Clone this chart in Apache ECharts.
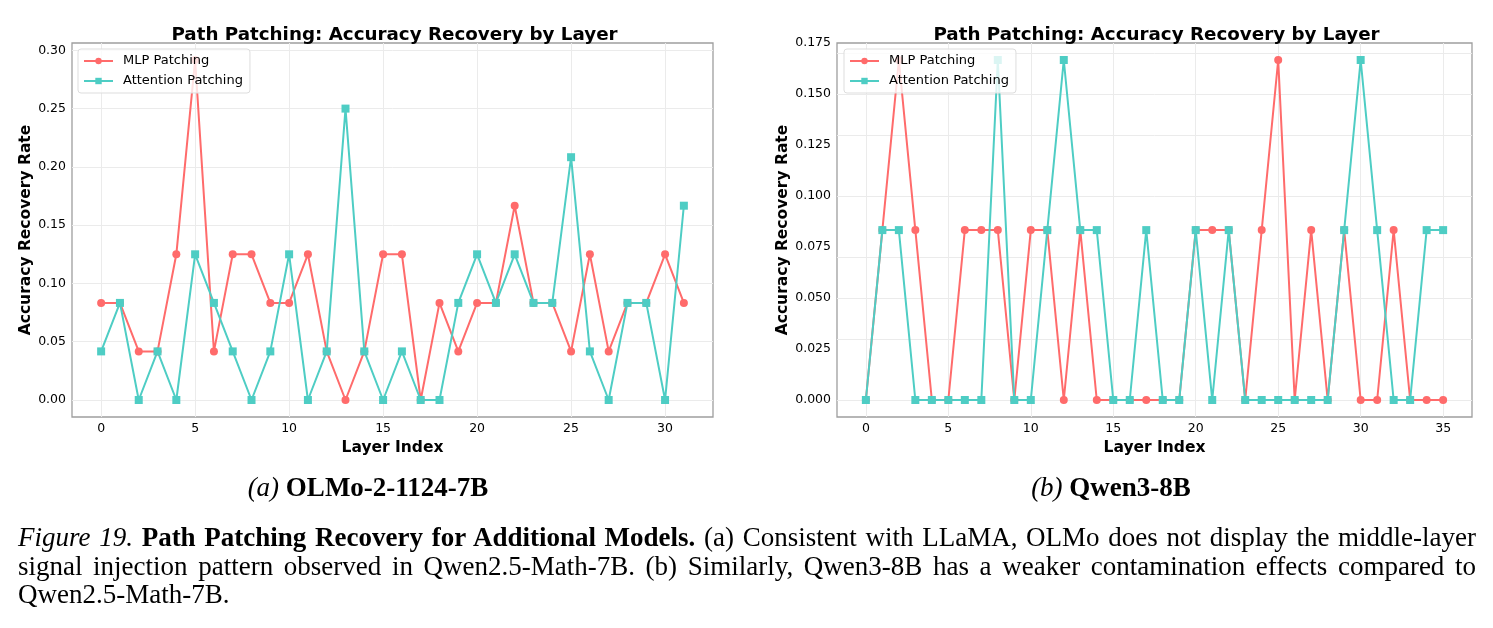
<!DOCTYPE html>
<html lang="en">

<head>
    <meta charset="UTF-8">
    <title>Path Patching Recovery</title>
    <script src="https://cdn.jsdelivr.net/npm/echarts@6/dist/echarts.min.js"></script>
    <style>
        body { margin: 0; background: #fff; }
        #wrap { position: relative; width: 1493px; height: 628px; }
        #main { position: absolute; left: 0; top: 0; width: 1493px; height: 628px; }
        .sub { position: absolute; top: 470px; font-family: 'Liberation Serif', 'Times New Roman', serif; font-size: 27px; line-height: 34px; white-space: nowrap; transform: translateX(-50%); }
        .cap { position: absolute; left: 18px; top: 523px; width: 1458px; font-family: 'Liberation Serif', 'Times New Roman', serif; font-size: 27px; line-height: 28.5px; }
        .cap .line { white-space: nowrap; }
        .cap .full { text-align: justify; text-align-last: justify; }
    </style>
</head>

<body>
<div id="wrap">
    <div id="main"></div>
    <div class="sub" style="left: 368px;"><i>(a)</i> <b>OLMo-2-1124-7B</b></div>
    <div class="sub" style="left: 1111px;"><i>(b)</i> <b>Qwen3-8B</b></div>
    <div class="cap">
        <div class="line full"><i>Figure 19.</i> <b>Path Patching Recovery for Additional Models.</b> (a) Consistent with LLaMA, OLMo does not display the middle-layer</div>
        <div class="line full">signal injection pattern observed in Qwen2.5-Math-7B. (b) Similarly, Qwen3-8B has a weaker contamination effects compared to</div>
        <div class="line">Qwen2.5-Math-7B.</div>
    </div>
</div>
<script>
    // OLMo-2-1124-7B, layers 0..31
    const olmoMlp = [0.0833, 0.0833, 0.0417, 0.0417, 0.125, 0.2917, 0.0417, 0.125, 0.125, 0.0833,
        0.0833, 0.125, 0.0417, 0, 0.0417, 0.125, 0.125, 0, 0.0833, 0.0417,
        0.0833, 0.0833, 0.1667, 0.0833, 0.0833, 0.0417, 0.125, 0.0417, 0.0833, 0.0833,
        0.125, 0.0833]
    const olmoAttn = [0.0417, 0.0833, 0, 0.0417, 0, 0.125, 0.0833, 0.0417, 0, 0.0417,
        0.125, 0, 0.0417, 0.25, 0.0417, 0, 0.0417, 0, 0, 0.0833,
        0.125, 0.0833, 0.125, 0.0833, 0.0833, 0.2083, 0.0417, 0, 0.0833, 0.0833,
        0, 0.1667]
    const olmoXTicks = [0, 5, 10, 15, 20, 25, 30]
    const olmoYTicks = [0, 0.05, 0.10, 0.15, 0.20, 0.25, 0.30]

    // Qwen3-8B, layers 0..35
    const qwenMlp = [0, 0.0833, 0.1667, 0.0833, 0, 0, 0.0833, 0.0833, 0.0833, 0,
        0.0833, 0.0833, 0, 0.0833, 0, 0, 0, 0, 0, 0,
        0.0833, 0.0833, 0.0833, 0, 0.0833, 0.1667, 0, 0.0833, 0, 0.0833,
        0, 0, 0.0833, 0, 0, 0]
    const qwenAttn = [0, 0.0833, 0.0833, 0, 0, 0, 0, 0, 0.1667, 0,
        0, 0.0833, 0.1667, 0.0833, 0.0833, 0, 0, 0.0833, 0, 0,
        0.0833, 0, 0.0833, 0, 0, 0, 0, 0, 0, 0.0833,
        0.1667, 0.0833, 0, 0, 0.0833, 0.0833]
    const qwenXTicks = [0, 5, 10, 15, 20, 25, 30, 35]
    const qwenYTicks = [0, 0.025, 0.05, 0.075, 0.10, 0.125, 0.15, 0.175]

    const FONT = 'DejaVu Sans'
    const RED = '#FF6B6B'
    const TEAL = '#4ECDC4'
    const TITLE = 'Path Patching: Accuracy Recovery by Layer'

    function pairs(values) {
        return values.map((v, i) => [i, v])
    }

    // matplotlib style 5% margins around the data
    function pad(lo, hi) {
        const m = (hi - lo) * 0.05
        return [lo - m, hi + m]
    }

    const panels = [
        { mlp: olmoMlp, attn: olmoAttn, xTicks: olmoXTicks, yTicks: olmoYTicks, digits: 2,
          left: 72, right: 780, nameGap: 28, legendLeft: 78 },
        { mlp: qwenMlp, attn: qwenAttn, xTicks: qwenXTicks, yTicks: qwenYTicks, digits: 3,
          left: 837, right: 21, nameGap: 35, legendLeft: 844 }
    ]

    const option = {
        animation: false,
        textStyle: { fontFamily: FONT },
        title: [], legend: [], grid: [], xAxis: [], yAxis: [], series: []
    }

    panels.forEach((p, k) => {
        const n = p.mlp.length
        const all = p.mlp.concat(p.attn)
        const xr = pad(0, n - 1)
        const yr = pad(Math.min.apply(null, all), Math.max.apply(null, all))
        const plotW = 1493 - p.left - p.right

        option.title.push({
            text: TITLE,
            left: p.left + plotW / 2 - 3,
            textAlign: 'center',
            top: 21,
            textStyle: { fontFamily: FONT, fontSize: 18.3, fontWeight: 'bold', color: '#000' }
        })
        option.grid.push({
            left: p.left, right: p.right, top: 43, bottom: 211,
            show: true, borderColor: '#9e9e9e', borderWidth: 1.3, backgroundColor: '#fff'
        })
        option.xAxis.push({
            type: 'value', gridIndex: k, min: xr[0], max: xr[1],
            name: 'Layer Index', nameLocation: 'middle', nameGap: 12,
            nameTextStyle: { fontFamily: FONT, fontSize: 15.5, fontWeight: 'bold', color: '#000' },
            axisLine: { show: false }, axisTick: { show: false, customValues: p.xTicks },
            splitLine: { show: false },
            axisLabel: { customValues: p.xTicks, fontSize: 12.5, color: '#000', margin: 5 }
        })
        option.yAxis.push({
            type: 'value', gridIndex: k, min: yr[0], max: yr[1],
            name: 'Accuracy Recovery Rate', nameLocation: 'middle', nameGap: p.nameGap,
            nameTextStyle: { fontFamily: FONT, fontSize: 15.5, fontWeight: 'bold', color: '#000' },
            axisLine: { show: false }, axisTick: { show: false, customValues: p.yTicks },
            splitLine: { show: false },
            axisLabel: {
                customValues: p.yTicks, fontSize: 12.5, color: '#000', margin: 6,
                formatter: v => v.toFixed(p.digits)
            }
        })
        // light grid lines at the tick values, kept under the data
        option.series.push({
            type: 'line', xAxisIndex: k, yAxisIndex: k, data: [], z: 1,
            markLine: {
                z: 1, silent: true, symbol: 'none', label: { show: false },
                lineStyle: { color: '#ebebeb', width: 1, type: 'solid' },
                data: p.yTicks.map(v => ({ yAxis: v })).concat(p.xTicks.map(v => ({ xAxis: v })))
            }
        })
        option.series.push({
            name: 'MLP Patching', type: 'line', xAxisIndex: k, yAxisIndex: k,
            data: pairs(p.mlp), symbol: 'circle', symbolSize: 8,
            color: RED, lineStyle: { width: 2 }, z: 3
        })
        option.series.push({
            name: 'Attention Patching', type: 'line', xAxisIndex: k, yAxisIndex: k,
            data: pairs(p.attn), symbol: 'rect', symbolSize: 8,
            color: TEAL, lineStyle: { width: 2 }, z: 3
        })
        option.legend.push({
            orient: 'vertical', left: p.legendLeft, top: 49, z: 10,
            data: ['MLP Patching', 'Attention Patching'],
            itemWidth: 29, itemHeight: 8, itemGap: 6,
            padding: [5, 7, 5, 5],
            backgroundColor: 'rgba(255,255,255,0.8)', borderColor: '#dddddd', borderWidth: 1, borderRadius: 3,
            textStyle: { fontFamily: FONT, fontSize: 13, color: '#000', lineHeight: 14, padding: [0, 0, 0, 5] },
            selectedMode: false
        })
    })

    const chart = echarts.init(document.getElementById('main'))
    chart.setOption(option)
</script>
</body>

</html>
